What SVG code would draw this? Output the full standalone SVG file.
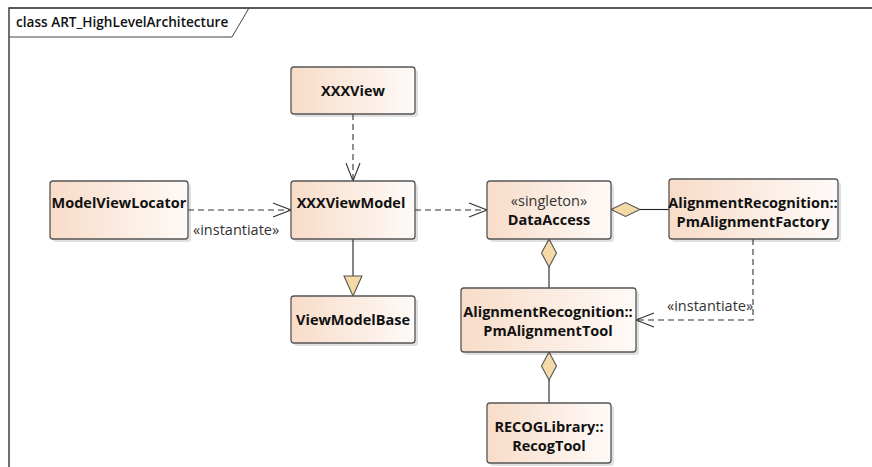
<svg xmlns="http://www.w3.org/2000/svg" width="872" height="467" viewBox="0 0 872 467">
<defs>
<linearGradient id="g" x1="0" y1="0" x2="1" y2="0">
<stop offset="0" stop-color="#f8dcc8"/>
<stop offset="1" stop-color="#fefaf8"/>
</linearGradient>
<marker id="open" viewBox="0 0 20 16" refX="19" refY="8" markerWidth="20" markerHeight="16" markerUnits="userSpaceOnUse" orient="auto">
<path d="M1,1 L19,8 L1,15" fill="none" stroke="#333" stroke-width="1.1"/>
</marker>
</defs>
<style>
.box{fill:url(#g);stroke:#555;stroke-width:1.3}
.sh{fill:#000;opacity:0.12}
.t{font-family:"Open Sans","Noto Sans",sans-serif;font-weight:700;font-size:14.5px;fill:#111;text-anchor:middle}
.st{font-family:"Open Sans","Noto Sans",sans-serif;font-size:14.5px;fill:#333}
.dash{fill:none;stroke:#333;stroke-width:1.1;stroke-dasharray:6 4}
.solid{fill:none;stroke:#222;stroke-width:1.1}
.dia{fill:#f5d9a6;stroke:#555;stroke-width:1.1}
</style>
<rect width="872" height="467" fill="#fff"/>
<g id="frame">
<path d="M9,467 L9,8 L872,8" fill="none" stroke="#222" stroke-width="1.3"/>
<path d="M9,37 L232,37 L249,8" fill="none" stroke="#444" stroke-width="1"/>
<text x="16" y="27" style="font-family:'Open Sans','Noto Sans',sans-serif;font-weight:600;font-size:13.6px;fill:#111">class ART_HighLevelArchitecture</text>
</g>
<g id="connectors">
<line class="dash" x1="353" y1="114" x2="353" y2="181" marker-end="url(#open)"/>
<line class="dash" x1="188" y1="210" x2="291" y2="210" marker-end="url(#open)"/>
<text class="st" x="193" y="235">«instantiate»</text>
<line class="dash" x1="415" y1="210" x2="487" y2="210" marker-end="url(#open)"/>
<line class="solid" x1="353" y1="239" x2="353" y2="276"/>
<polygon class="dia" points="344,276 362,276 353,296"/>
<polygon class="dia" points="611,209.5 625.5,202.5 640,209.5 625.5,216.5"/>
<line class="solid" x1="640" y1="209.5" x2="669" y2="209.5"/>
<polygon class="dia" points="549,239 556.5,253 549,267 541.5,253"/>
<line class="solid" x1="549" y1="267" x2="549" y2="288"/>
<polygon class="dia" points="549,352 556.5,366 549,380 541.5,366"/>
<line class="solid" x1="549" y1="380" x2="549" y2="403"/>
<polyline class="dash" points="753,239 753,320 636,320" marker-end="url(#open)"/>
<text class="st" x="667" y="311">«instantiate»</text>
</g>
<g id="XXXView">
<rect class="sh" x="294" y="70" width="124" height="47" rx="3"/>
<rect class="box" x="291" y="67" width="124" height="47" rx="3"/>
<text class="t" x="353" y="96">XXXView</text>
</g>
<g id="ModelViewLocator">
<rect class="sh" x="53" y="184" width="138" height="58" rx="3"/>
<rect class="box" x="50" y="181" width="138" height="58" rx="3"/>
<text class="t" x="119" y="208">ModelViewLocator</text>
</g>
<g id="XXXViewModel">
<rect class="sh" x="294" y="184" width="124" height="58" rx="3"/>
<rect class="box" x="291" y="181" width="124" height="58" rx="3"/>
<text class="t" x="351" y="208">XXXViewModel</text>
</g>
<g id="DataAccess">
<rect class="sh" x="490" y="184" width="124" height="58" rx="3"/>
<rect class="box" x="487" y="181" width="124" height="58" rx="3"/>
<text class="t" x="549" y="206" style="font-weight:400;fill:#333">«singleton»</text>
<text class="t" x="549" y="225">DataAccess</text>
</g>
<g id="PmAlignmentFactory">
<rect class="sh" x="672" y="182" width="169" height="60" rx="3"/>
<rect class="box" x="669" y="179" width="169" height="60" rx="3"/>
<text class="t" x="753" y="208">AlignmentRecognition::</text>
<text class="t" x="753" y="227">PmAlignmentFactory</text>
</g>
<g id="ViewModelBase">
<rect class="sh" x="294" y="299" width="124" height="47" rx="3"/>
<rect class="box" x="291" y="296" width="124" height="47" rx="3"/>
<text class="t" x="353" y="325">ViewModelBase</text>
</g>
<g id="PmAlignmentTool">
<rect class="sh" x="464" y="291" width="175" height="64" rx="3"/>
<rect class="box" x="461" y="288" width="175" height="64" rx="3"/>
<text class="t" x="548" y="317">AlignmentRecognition::</text>
<text class="t" x="548" y="336">PmAlignmentTool</text>
</g>
<g id="RecogTool">
<rect class="sh" x="490" y="406" width="124" height="60" rx="3"/>
<rect class="box" x="487" y="403" width="124" height="60" rx="3"/>
<text class="t" x="549" y="432">RECOGLibrary::</text>
<text class="t" x="549" y="451">RecogTool</text>
</g>
</svg>
